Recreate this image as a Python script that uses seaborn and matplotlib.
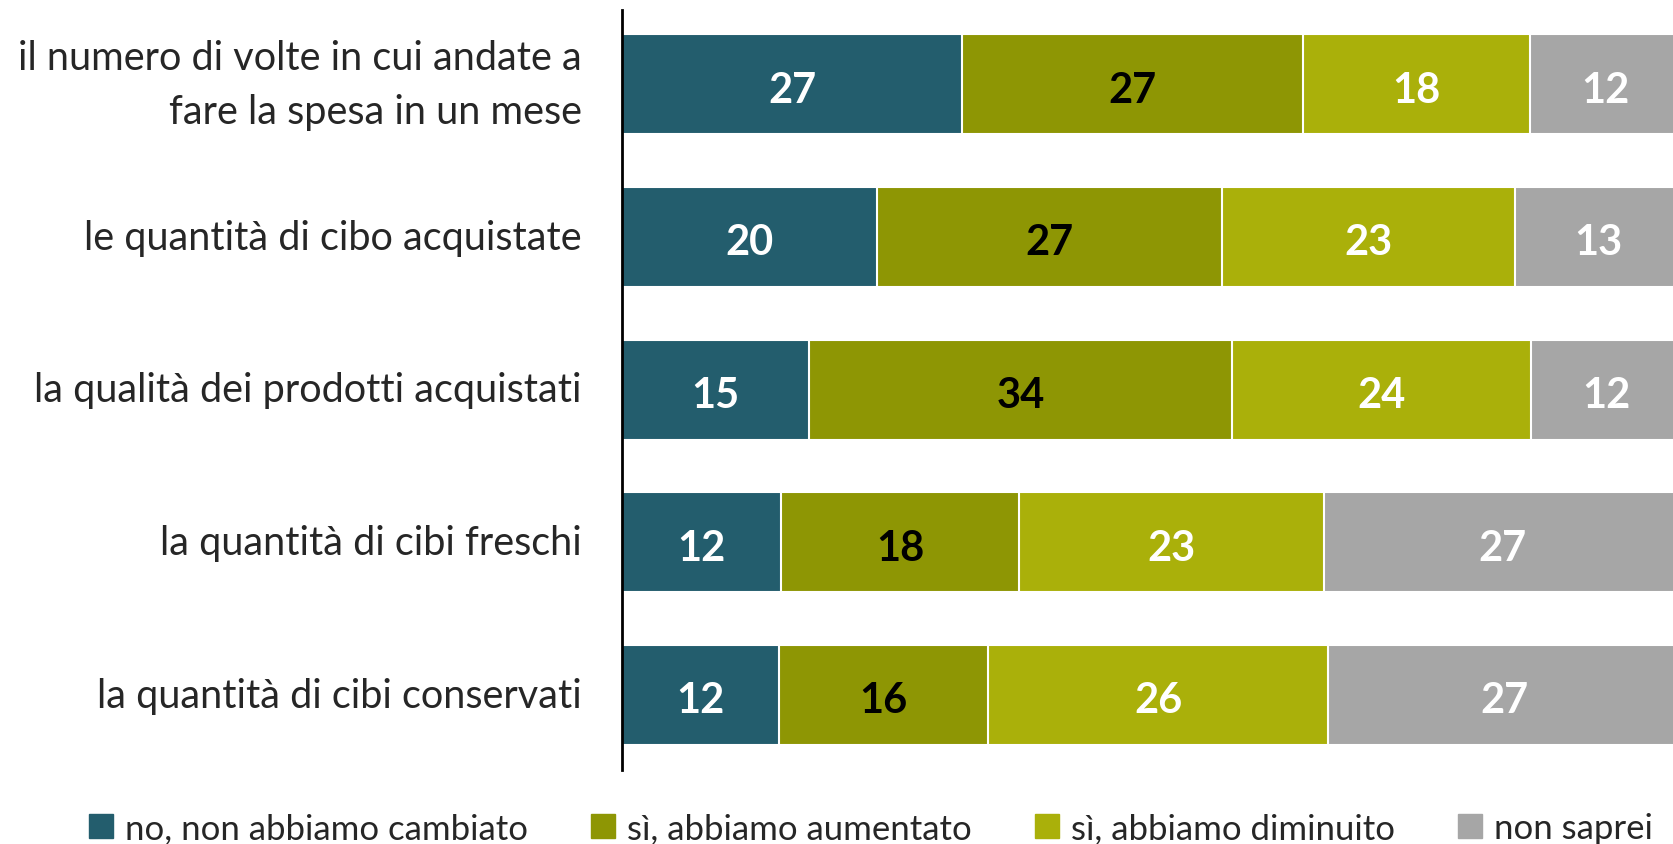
import numpy as np
import pandas as pd
import matplotlib.pyplot as plt
import matplotlib.patches as mpatches
from matplotlib.transforms import offset_copy
import seaborn as sns

# data
categories = [
    "il numero di volte in cui andate a\nfare la spesa in un mese",
    "le quantità di cibo acquistate",
    "la qualità dei prodotti acquistati",
    "la quantità di cibi freschi",
    "la quantità di cibi conservati",
]
series = ["no, non abbiamo cambiato", "sì, abbiamo aumentato",
          "sì, abbiamo diminuito", "non saprei"]
no_change = [27, 20, 15, 12, 12]
increased = [27, 27, 34, 18, 16]
decreased = [18, 23, 24, 23, 26]
dont_know = [12, 13, 12, 27, 27]

colors = ["#235D6D", "#8E9604", "#AAB00A", "#A6A6A6"]
text_colors = ["white", "black", "white", "white"]

sns.set_theme(style="white")
plt.rcParams['font.family'] = ['Lato', 'DejaVu Sans']

vals = np.array([no_change, increased, decreased, dont_know], dtype=float)
pct = vals / vals.sum(axis=0) * 100  # each row is shown as 100 %
cum = np.cumsum(pct, axis=0)

df = pd.DataFrame({"cat": categories})
for i, s in enumerate(series):
    df[s] = cum[i]

fig = plt.figure(figsize=(16.73, 8.45), dpi=100)
ax = fig.add_axes([0.3718, 0.0876, 0.6282, 0.8998])

# draw stacked bars as cumulative layers, back to front
for i in range(len(series) - 1, -1, -1):
    sns.barplot(data=df, x=series[i], y="cat", orient="h", color=colors[i],
                width=0.655, edgecolor="white", linewidth=1.5,
                saturation=1, ax=ax)

# value labels (nudged down a bit so digits sit on the bar centre)
lab_tr = offset_copy(ax.transData, fig=fig, y=-3.8, units="points")
for i in range(len(series)):
    for j in range(len(categories)):
        ax.text(cum[i, j] - pct[i, j] / 2, j, f"{int(vals[i, j])}",
                ha="center", va="center", fontsize=30, fontweight="bold",
                color=text_colors[i], transform=lab_tr)

ax.set_xlim(0, 99.25)
ax.set_ylim(4.49, -0.49)
ax.set_xlabel("")
ax.set_ylabel("")
ax.set_xticks([])
ax.set_yticks(range(len(categories)))
ax.set_yticklabels([])
ax.tick_params(axis="y", length=0)

# category labels drawn as text, right aligned left of the axis
cat_tr = offset_copy(ax.get_yaxis_transform(), fig=fig, x=-29, units="points")
for j, c in enumerate(categories):
    ax.text(0, j, c, transform=cat_tr,
            ha="right", va="center", multialignment="right",
            fontsize=28.5, linespacing=1.55)

for side in ["top", "right", "bottom"]:
    ax.spines[side].set_visible(False)
ax.spines["left"].set_color("black")
ax.spines["left"].set_linewidth(2)

handles = [mpatches.Patch(color=c, label=s) for c, s in zip(colors, series)]
fig.legend(handles=handles, loc="center", bbox_to_anchor=(0.5206, 0.019),
           ncol=4, frameon=False, fontsize=25, handlelength=0.7,
           handleheight=0.7, handletextpad=0.35, columnspacing=1.8)

plt.savefig("out.png", dpi=100)
